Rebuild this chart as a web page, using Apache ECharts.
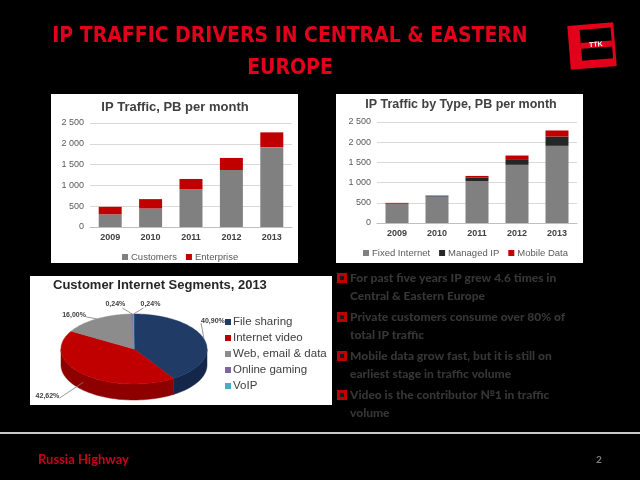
<!DOCTYPE html>
<html>
<head>
<meta charset="utf-8">
<script src="https://cdn.jsdelivr.net/npm/echarts@6/dist/echarts.min.js"></script>
<style>
  html, body { margin: 0; padding: 0; background: #000; }
  #main { width: 640px; height: 480px; }
</style>
</head>
<body>
<div id="main"></div>
<script>
var years = ['2009', '2010', '2011', '2012', '2013'];

// IP Traffic, PB per month
var customers = [305, 445, 905, 1370, 1920];
var enterprise = [180, 225, 250, 290, 355];

// IP Traffic by Type, PB per month
var fixedInternet = [475, 655, 1040, 1440, 1910];
var managedIP = [15, 15, 90, 140, 230];
var mobileData = [8, 10, 35, 90, 150];

// Customer Internet Segments, 2013
var segments = ['File sharing', 'Internet video', 'Web, email & data', 'Online gaming', 'VoIP'];
var segmentShare = [40.90, 42.62, 16.00, 0.24, 0.24];

var bullets = [
  ['For past five years IP grew 4.6 times in', 'Central & Eastern Europe'],
  ['Private customers consume over 80% of', 'total IP traffic'],
  ['Mobile data grow fast, but it is still on', 'earliest stage in traffic volume'],
  ['Video is the contributor \u21161 in traffic', 'volume']
];

var segColors = ['#1F3B66', '#C00000', '#8C8C8C', '#8064A2', '#4BACC6'];
var segSide = ['#14264A', '#8E0000', '#5E5E5E', '#5A4775', '#33798C'];

var chart = echarts.init(document.getElementById('main'));

function fmtNum(v) {
  return String(v).replace(/\B(?=(\d{3})+(?!\d))/g, ' ');
}

var axisFont = 'Liberation Sans';

function yAxisOpt(idx) {
  return {
    gridIndex: idx, min: 0, max: 2500, interval: 500,
    axisLine: { show: false }, axisTick: { show: false },
    axisLabel: { formatter: fmtNum, fontSize: 9, color: '#595959', fontFamily: axisFont, margin: 6 },
    splitLine: { lineStyle: { color: '#d9d9d9' } }
  };
}
function xAxisOpt(idx) {
  return {
    type: 'category', gridIndex: idx, data: years,
    axisLine: { lineStyle: { color: '#bfbfbf' } }, axisTick: { show: false },
    axisLabel: { fontSize: 9, fontWeight: 'bold', color: '#404040', fontFamily: axisFont, margin: 6 }
  };
}

// 3D pie geometry
var pieCx = 134, pieCy = 349, pieRx = 73, pieRy = 35, pieDepth = 16;
// manual label placement relative to each slice's edge (like the original's dragged labels)
var pieLabelShift = [[-5, -18], [-22, 14], [-9, -4], [-17, -9], [17, -9]];
var shareTotal = segmentShare.reduce(function (a, b) { return a + b; }, 0);

function piePt(a, dy) {
  var r = a * Math.PI / 180;
  return [pieCx + pieRx * Math.sin(r), pieCy - pieRy * Math.cos(r) + (dy || 0)];
}
function pieArc(s, e, dy) {
  var n = Math.max(2, Math.ceil((e - s) / 2));
  var pts = [];
  for (var k = 0; k <= n; k++) pts.push(piePt(s + (e - s) * k / n, dy));
  return pts;
}

function renderPie(params, api) {
  var i = params.dataIndex;
  var start = 0;
  for (var j = 0; j < i; j++) start += segmentShare[j];
  var val = api.value(0);
  var a0 = start / shareTotal * 360, a1 = (start + val) / shareTotal * 360;
  var children = [];
  var s0 = Math.max(a0, 90), s1 = Math.min(a1, 270);
  if (s1 > s0) {
    var side = pieArc(s0, s1, 0).concat(pieArc(s0, s1, pieDepth).reverse());
    children.push({ type: 'polygon', z2: 1, shape: { points: side },
      style: { fill: segSide[i], stroke: segSide[i], lineWidth: 0.5 } });
  }
  var top = [[pieCx, pieCy]].concat(pieArc(a0, a1, 0));
  children.push({ type: 'polygon', z2: 2, shape: { points: top },
    style: { fill: segColors[i], stroke: segColors[i], lineWidth: 0.5 } });

  // label with leader line
  var m = (a0 + a1) / 2, mr = m * Math.PI / 180;
  var A = piePt(m, Math.cos(mr) < 0 ? pieDepth / 2 : 0);
  var L = [A[0] + pieLabelShift[i][0], A[1] + pieLabelShift[i][1]];
  var align = val < 1 ? 'center' : (Math.sin(mr) > 0 ? 'left' : 'right');
  var lineEnd = val < 1 ? [L[0] + (L[0] < A[0] ? 7 : -7), L[1] + 3] : [L[0] + (align === 'left' ? 2 : -2), L[1] + 2];
  children.push({ type: 'line', z2: 3, shape: { x1: A[0], y1: A[1], x2: lineEnd[0], y2: lineEnd[1] },
    style: { stroke: '#7f7f7f', lineWidth: 0.8 } });
  children.push({ type: 'text', z2: 4, style: {
    text: val.toFixed(2).replace('.', ',') + '%',
    x: L[0] + (align === 'left' ? 2 : align === 'right' ? -2 : 0), y: L[1] - (val < 1 ? 1 : 0),
    align: align, verticalAlign: 'middle',
    font: 'bold 7px "Liberation Sans"', fill: '#404040'
  } });
  return { type: 'group', children: children };
}

var graphics = [
  { type: 'rect', z: -10, shape: { x: 51, y: 94, width: 247, height: 169 }, style: { fill: '#fff' } },
  { type: 'rect', z: -10, shape: { x: 336, y: 94, width: 247, height: 169 }, style: { fill: '#fff' } },
  { type: 'rect', z: -10, shape: { x: 30, y: 276, width: 302, height: 129 }, style: { fill: '#fff' } },
  { type: 'text', style: { text: 'IP TRAFFIC DRIVERS IN CENTRAL & EASTERN', x: 290, y: 37, align: 'center', verticalAlign: 'middle',
      font: 'bold 21px "DejaVu Sans Condensed"', fill: '#E2001A' } },
  { type: 'text', style: { text: 'EUROPE', x: 290, y: 69, align: 'center', verticalAlign: 'middle',
      font: 'bold 21px "DejaVu Sans Condensed"', fill: '#E2001A' } },
  { type: 'group', x: 592, y: 46, rotation: 0.08, children: [
    { type: 'rect', shape: { x: -23, y: -22, width: 46, height: 44 }, style: { fill: '#E2001A' } },
    { type: 'rect', shape: { x: -11, y: -17, width: 31, height: 31 }, style: { fill: '#000' } },
    { type: 'rect', shape: { x: -11, y: -4, width: 31, height: 6 }, style: { fill: '#E2001A' } },
    { type: 'text', style: { text: 'TTK', x: 4, y: -1, align: 'center', verticalAlign: 'middle',
        font: 'bold 7px "Liberation Sans"', fill: '#fff' } }
  ] },
  { type: 'text', style: { text: 'IP Traffic, PB per month', x: 175, y: 107, align: 'center', verticalAlign: 'middle',
      font: 'bold 13px "Liberation Sans"', fill: '#404040' } },
  { type: 'text', style: { text: 'IP Traffic by Type, PB per month', x: 461, y: 105, align: 'center', verticalAlign: 'middle',
      font: 'bold 12.5px "Liberation Sans"', fill: '#404040' } },
  { type: 'text', style: { text: 'Customer Internet Segments, 2013', x: 53, y: 285, align: 'left', verticalAlign: 'middle',
      font: 'bold 13px "Liberation Sans"', fill: '#262626' } },
  { type: 'line', shape: { x1: 0, y1: 433, x2: 640, y2: 433 }, style: { stroke: '#c8c8c8', lineWidth: 2 } },
  { type: 'text', style: { text: 'Russia Highway', x: 38, y: 460, align: 'left', verticalAlign: 'middle',
      font: 'bold 13px Lato', fill: '#C8001A' } },
  { type: 'text', style: { text: '2', x: 599, y: 460, align: 'center', verticalAlign: 'middle',
      font: 'bold 10px Lato', fill: '#7f7f7f' } }
];

// pie legend
segments.forEach(function (name, i) {
  var y = 322 + i * 16;
  graphics.push({ type: 'rect', shape: { x: 225, y: y - 3, width: 6, height: 6 }, style: { fill: segColors[i] } });
  graphics.push({ type: 'text', style: { text: name, x: 233, y: y, align: 'left', verticalAlign: 'middle',
    font: '11.5px "Liberation Sans"', fill: '#404040' } });
});

// bullet points
bullets.forEach(function (lines, i) {
  var y = 278 + i * 39;
  graphics.push({ type: 'rect', shape: { x: 337, y: y - 5, width: 10, height: 10 }, style: { fill: '#C00000' } });
  graphics.push({ type: 'rect', shape: { x: 340, y: y - 2, width: 4, height: 4 }, style: { fill: '#1a1a1a' } });
  lines.forEach(function (t, k) {
    graphics.push({ type: 'text', style: { text: t, x: 350, y: y + k * 18, align: 'left', verticalAlign: 'middle',
      font: '900 12px Lato', fill: '#363636' } });
  });
});

var legendText = { fontSize: 9.5, color: '#595959', fontFamily: axisFont, padding: [0, 0, 0, -2] };

var option = {
  backgroundColor: '#000',
  animation: false,
  textStyle: { fontFamily: axisFont },
  grid: [
    { left: 90, right: 348, top: 123, bottom: 253 },
    { left: 377, right: 63, top: 122, bottom: 257 }
  ],
  xAxis: [xAxisOpt(0), xAxisOpt(1)],
  yAxis: [yAxisOpt(0), yAxisOpt(1)],
  legend: [
    { data: ['Customers', 'Enterprise'], left: 117, top: 247, itemWidth: 6, itemHeight: 6, itemGap: 9,
      icon: 'rect', textStyle: legendText },
    { data: ['Fixed Internet', 'Managed IP', 'Mobile Data'], left: 358, top: 243, itemWidth: 6, itemHeight: 6, itemGap: 9,
      icon: 'rect', textStyle: legendText }
  ],
  series: [
    { name: 'Customers', type: 'bar', stack: 'a', xAxisIndex: 0, yAxisIndex: 0, barWidth: 23,
      itemStyle: { color: '#808080' }, data: customers },
    { name: 'Enterprise', type: 'bar', stack: 'a', xAxisIndex: 0, yAxisIndex: 0, barWidth: 23,
      itemStyle: { color: '#C00000' }, data: enterprise },
    { name: 'Fixed Internet', type: 'bar', stack: 'b', xAxisIndex: 1, yAxisIndex: 1, barWidth: 23,
      itemStyle: { color: '#808080' }, data: fixedInternet },
    { name: 'Managed IP', type: 'bar', stack: 'b', xAxisIndex: 1, yAxisIndex: 1, barWidth: 23,
      itemStyle: { color: '#262626' }, data: managedIP },
    { name: 'Mobile Data', type: 'bar', stack: 'b', xAxisIndex: 1, yAxisIndex: 1, barWidth: 23,
      itemStyle: { color: '#C00000' }, data: mobileData },
    { name: 'Segments', type: 'custom', coordinateSystem: 'none', renderItem: renderPie,
      data: segmentShare.map(function (v, i) { return { name: segments[i], value: [v] }; }) }
  ],
  graphic: graphics
};

chart.setOption(option);

window.onresize = function () {
  chart.resize();
};
</script>
</body>
</html>
